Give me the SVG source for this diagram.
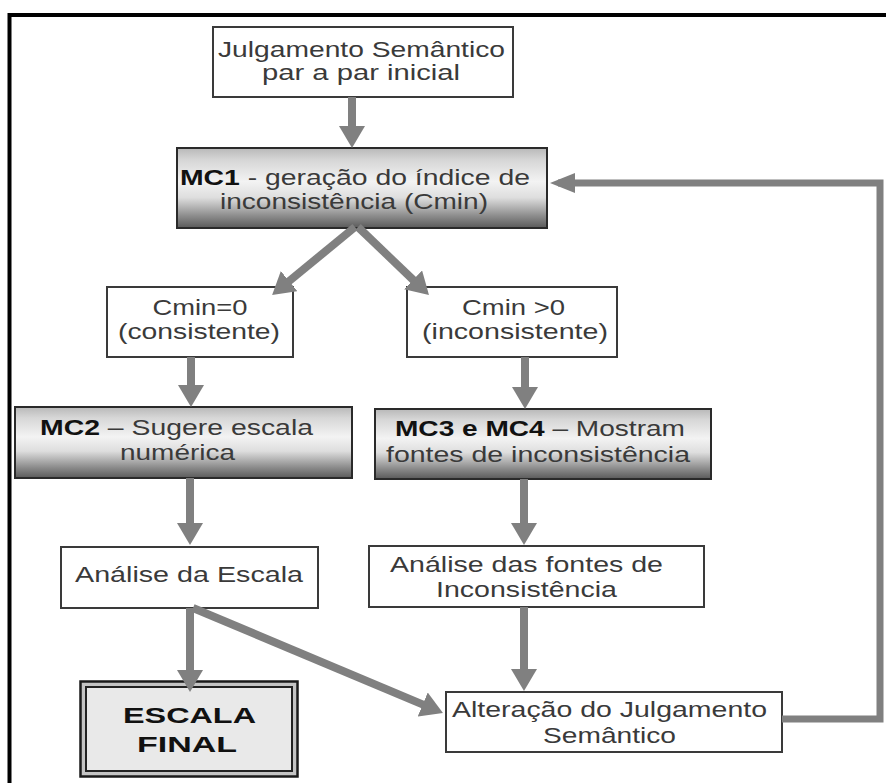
<svg xmlns="http://www.w3.org/2000/svg" width="886" height="783" viewBox="0 0 886 783">
<style>
  .box{fill:#fff;stroke:#3a3a3a;stroke-width:2}
  .mc{fill:url(#mcgrad);stroke:#2a2a2a;stroke-width:2}
  .t{font-family:"Liberation Sans",Arial,sans-serif;font-size:22px;fill:#3a3a3a;text-anchor:middle}
  .b{font-weight:bold;fill:#111}
  .c{fill:none;stroke:#808080;stroke-width:8}
</style>
<defs>
  <linearGradient id="mcgrad" x1="0" y1="0" x2="0" y2="1">
    <stop offset="0" stop-color="#b8b8b8"/>
    <stop offset="0.15" stop-color="#d6d6d6"/>
    <stop offset="0.42" stop-color="#f3f3f3"/>
    <stop offset="0.62" stop-color="#dedede"/>
    <stop offset="0.85" stop-color="#8c8c8c"/>
    <stop offset="1" stop-color="#5a5a5a"/>
  </linearGradient>
  <marker id="ahv" markerUnits="userSpaceOnUse" markerWidth="22" markerHeight="26" viewBox="0 0 22 26" refX="14" refY="13" orient="auto">
    <path d="M0,0 L22,13 L0,26 z" fill="#808080"/>
  </marker>
  <marker id="ahh" markerUnits="userSpaceOnUse" markerWidth="25" markerHeight="20" viewBox="0 0 25 20" refX="17" refY="10" orient="auto">
    <path d="M0,0 L25,10 L0,20 z" fill="#808080"/>
  </marker>
</defs>
<rect width="886" height="783" fill="#fff"/>
<path d="M9.5,800 V15 H900" fill="none" stroke="#000" stroke-width="4"/>

<g id="n-julgamento">
  <rect class="box" x="213" y="27" width="300" height="70"/>
  <text class="t" x="361.5" y="57" textLength="287" lengthAdjust="spacingAndGlyphs">Julgamento Semântico</text>
  <text class="t" x="361" y="80" textLength="198" lengthAdjust="spacingAndGlyphs">par a par inicial</text>
</g>
<g id="n-mc1">
  <rect class="mc" x="177" y="148" width="370" height="80"/>
  <text class="t" x="355" y="185" textLength="350" lengthAdjust="spacingAndGlyphs"><tspan class="b">MC1</tspan> - geração do índice de</text>
  <text class="t" x="354" y="209" textLength="268" lengthAdjust="spacingAndGlyphs">inconsistência (Cmin)</text>
</g>
<g id="n-cmin0">
  <rect class="box" x="107" y="287" width="186" height="70"/>
  <text class="t" x="200" y="315" textLength="95" lengthAdjust="spacingAndGlyphs">Cmin=0</text>
  <text class="t" x="199" y="339" textLength="162" lengthAdjust="spacingAndGlyphs">(consistente)</text>
</g>
<g id="n-cminpos">
  <rect class="box" x="407" y="287" width="210" height="70"/>
  <text class="t" x="513.5" y="315" textLength="103" lengthAdjust="spacingAndGlyphs">Cmin &gt;0</text>
  <text class="t" x="515" y="339" textLength="186" lengthAdjust="spacingAndGlyphs">(inconsistente)</text>
</g>
<g id="n-mc2">
  <rect class="mc" x="15" y="407" width="337" height="71"/>
  <text class="t" x="176.5" y="435" textLength="273" lengthAdjust="spacingAndGlyphs"><tspan class="b">MC2</tspan> – Sugere escala</text>
  <text class="t" x="177.5" y="460" textLength="115" lengthAdjust="spacingAndGlyphs">numérica</text>
</g>
<g id="n-mc3mc4">
  <rect class="mc" x="375" y="409" width="336" height="70"/>
  <text class="t" x="540" y="436" textLength="290" lengthAdjust="spacingAndGlyphs"><tspan class="b">MC3 e MC4</tspan> – Mostram</text>
  <text class="t" x="538" y="462" textLength="304" lengthAdjust="spacingAndGlyphs">fontes de inconsistência</text>
</g>
<g id="n-analise-escala">
  <rect class="box" x="61" y="547" width="257" height="61"/>
  <text class="t" x="189" y="582" textLength="228" lengthAdjust="spacingAndGlyphs">Análise da Escala</text>
</g>
<g id="n-analise-fontes">
  <rect class="box" x="369" y="546" width="335" height="61"/>
  <text class="t" x="526.5" y="572" textLength="273" lengthAdjust="spacingAndGlyphs">Análise das fontes de</text>
  <text class="t" x="526.5" y="597" textLength="181" lengthAdjust="spacingAndGlyphs">Inconsistência</text>
</g>
<g id="n-alteracao">
  <rect class="box" x="446" y="692" width="336" height="60"/>
  <text class="t" x="609.5" y="717" textLength="315" lengthAdjust="spacingAndGlyphs">Alteração do Julgamento</text>
  <text class="t" x="609.5" y="743" textLength="133" lengthAdjust="spacingAndGlyphs">Semântico</text>
</g>
<g id="n-escala-final">
  <rect x="80.5" y="681.5" width="217" height="95" fill="#c4c4c4" stroke="#1a1a1a" stroke-width="2.5"/>
  <rect x="86" y="687" width="206" height="84" fill="#e9e9e9" stroke="#222" stroke-width="2"/>
  <text class="t b" x="189.5" y="723" textLength="133" lengthAdjust="spacingAndGlyphs">ESCALA</text>
  <text class="t b" x="187" y="752" textLength="100" lengthAdjust="spacingAndGlyphs">FINAL</text>
</g>

<g id="connectors">
  <path class="c" d="M352,97 V140" marker-end="url(#ahv)"/>
  <path class="c" d="M355,227 L278.3,290" marker-end="url(#ahv)"/>
  <path class="c" d="M358,227 L423.2,289.5" marker-end="url(#ahv)"/>
  <path class="c" d="M191,357 V399" marker-end="url(#ahv)"/>
  <path class="c" d="M525,357 V401" marker-end="url(#ahv)"/>
  <path class="c" d="M190,478 V537" marker-end="url(#ahv)"/>
  <path class="c" d="M524,479 V537" marker-end="url(#ahv)"/>
  <path class="c" d="M190,608 V684" marker-end="url(#ahv)"/>
  <path class="c" d="M524,607 V683" marker-end="url(#ahv)"/>
  <path class="c" d="M193,608 L435.6,709.9" marker-end="url(#ahv)"/>
  <path class="c" style="stroke-width:7" d="M782,719 H880 V183 H558" marker-end="url(#ahh)"/>
</g>
</svg>
